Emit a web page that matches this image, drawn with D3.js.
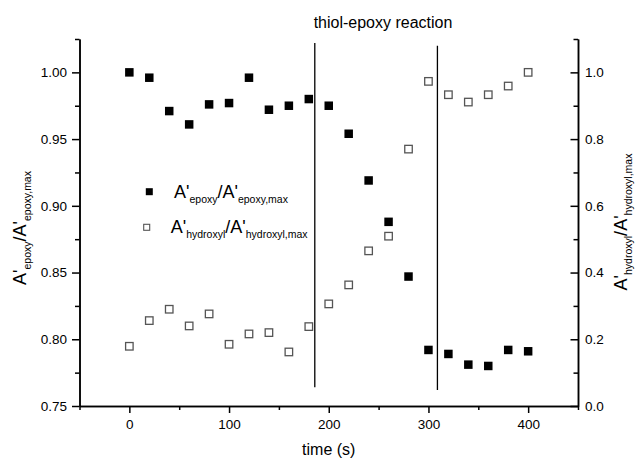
<!DOCTYPE html>
<html><head><meta charset="utf-8">
<script src="https://cdn.jsdelivr.net/npm/d3@7"></script>
<style>
html,body{margin:0;padding:0;background:#fff;}
svg text{font-family:"Liberation Sans",Arial,sans-serif;fill:#000;}
</style></head>
<body><svg id="c" width="640" height="461"></svg>
<script>
// ---- data ----
const times = [0,20,40,60,80,100,120,140,160,180,200,220,240,260,280,300,320,340,360,380,400];
const epoxy = [1.000,0.996,0.971,0.961,0.976,0.977,0.996,0.972,0.975,0.980,0.975,0.954,0.919,0.888,0.847,0.792,0.789,0.781,0.780,0.792,0.791];
const hydroxyl = [0.179,0.256,0.290,0.240,0.276,0.185,0.216,0.220,0.162,0.238,0.306,0.363,0.465,0.509,0.770,0.973,0.933,0.911,0.933,0.959,1.000];
const xMajor = [0,100,200,300,400];
const xMinor = [-50,50,150,250,350,450];
const yLMajor = [0.75,0.80,0.85,0.90,0.95,1.00];
const yLMinor = [0.775,0.825,0.875,0.925,0.975,1.025];
const yRMajor = [0.0,0.2,0.4,0.6,0.8,1.0];
const yRMinor = [0.1,0.3,0.5,0.7,0.9,1.1];
const reactionTimes = [186,309];
const reactionTop = [1.022,1.020];
const reactionBottom = [0.764,0.762];
const titleText = "thiol-epoxy reaction";
const xLabel = "time (s)";

// ---- layout ----
const svg = d3.select("#c");
const L = 79.5, R = 578, T = 39, B = 406;
const x = d3.scaleLinear().domain([-50,450]).range([L,R]);
const yL = d3.scaleLinear().domain([0.75,1.025]).range([B,T]);
const yR = d3.scaleLinear().domain([0,1.1]).range([B,T]);

function styleAxis(g){
  g.select(".domain").attr("stroke","#000").attr("stroke-width",1.5);
  g.selectAll(".tick line").attr("stroke","#000").attr("stroke-width",1.5);
  g.selectAll(".tick text").attr("font-size",13.5).attr("font-family","Liberation Sans, Arial, sans-serif").attr("fill","#111");
}

// bottom axis
const gx = svg.append("g").attr("transform",`translate(0,${B})`)
  .call(d3.axisBottom(x).tickValues(xMajor).tickSize(7).tickSizeOuter(0).tickPadding(6).tickFormat(d3.format("d")));
styleAxis(gx);
const gxm = svg.append("g").attr("transform",`translate(0,${B})`)
  .call(d3.axisBottom(x).tickValues(xMinor).tickSize(4).tickSizeOuter(0).tickFormat(""));
styleAxis(gxm);

// left axis
const gy = svg.append("g").attr("transform",`translate(${L},0)`)
  .call(d3.axisLeft(yL).tickValues(yLMajor).tickSize(7.5).tickSizeOuter(0).tickPadding(5).tickFormat(d3.format(".2f")));
styleAxis(gy);
const gym = svg.append("g").attr("transform",`translate(${L},0)`)
  .call(d3.axisLeft(yL).tickValues(yLMinor).tickSize(4.5).tickSizeOuter(0).tickFormat(""));
styleAxis(gym);

// right axis (ticks pointing inward)
const gr = svg.append("g").attr("transform",`translate(${R},0)`)
  .call(d3.axisRight(yR).tickValues(yRMajor).tickSize(-7.5).tickSizeOuter(0).tickPadding(7).tickFormat(d3.format(".1f")));
styleAxis(gr);
const grm = svg.append("g").attr("transform",`translate(${R},0)`)
  .call(d3.axisRight(yR).tickValues(yRMinor).tickSize(-4.5).tickSizeOuter(0).tickFormat(""));
styleAxis(grm);

// reaction boundary lines
svg.append("g").selectAll("line").data(reactionTimes).join("line")
  .attr("x1",d=>x(d)).attr("x2",d=>x(d))
  .attr("y1",(d,i)=>yL(reactionTop[i])).attr("y2",(d,i)=>yL(reactionBottom[i]))
  .attr("stroke","#000").attr("stroke-width",1.3);

// hydroxyl (open squares, right axis)
const so = 7.5;
svg.append("g").selectAll("rect").data(times).join("rect")
  .attr("x",d=>x(d)-so/2).attr("y",(d,i)=>yR(hydroxyl[i])-so/2)
  .attr("width",so).attr("height",so)
  .attr("fill","#fff").attr("stroke","#555").attr("stroke-width",1.3);

// epoxy (filled squares, left axis)
const sf = 8.5;
svg.append("g").selectAll("rect").data(times).join("rect")
  .attr("x",d=>x(d)-sf/2).attr("y",(d,i)=>yL(epoxy[i])-sf/2)
  .attr("width",sf).attr("height",sf).attr("fill","#000");

// helper for text with subscripts
function subText(sel, parts, big, small, shift){
  parts.forEach(p=>{
    const t = sel.append("tspan").text(p.t);
    if(p.sub){ t.attr("font-size",small).attr("dy",shift); }
    else { t.attr("font-size",big).attr("dy",p.first?0:-shift); }
  });
}

// title
svg.append("text").attr("x",383).attr("y",28).attr("text-anchor","middle")
  .attr("font-size",16).text(titleText);
// x label
svg.append("text").attr("x",(L+R)/2).attr("y",455).attr("text-anchor","middle")
  .attr("font-size",16).text(xLabel);

// left y title
const lt = svg.append("text").attr("transform","translate(25.5,228) rotate(-90)").attr("text-anchor","middle");
subText(lt,[{t:"A'",first:true},{t:"epoxy",sub:true},{t:"/A'"},{t:"epoxy,max",sub:true}],18,10.5,5);
// right y title
const rt = svg.append("text").attr("transform","translate(627,222) rotate(-90)").attr("text-anchor","middle");
subText(rt,[{t:"A'",first:true},{t:"hydroxyl",sub:true},{t:"/A'"},{t:"hydroxyl,max",sub:true}],18,10.5,5);

// legend
svg.append("rect").attr("x",149.3-3.5).attr("y",191.7-3.5).attr("width",7).attr("height",7).attr("fill","#000");
svg.append("rect").attr("x",146.7-3).attr("y",227.3-3).attr("width",6).attr("height",6)
  .attr("fill","#fff").attr("stroke","#555").attr("stroke-width",1.1);
const l1 = svg.append("text").attr("x",174).attr("y",198.3);
subText(l1,[{t:"A'",first:true},{t:"epoxy",sub:true},{t:"/A'"},{t:"epoxy,max",sub:true}],18,10.5,5);
const l2 = svg.append("text").attr("x",170.7).attr("y",233.3);
subText(l2,[{t:"A'",first:true},{t:"hydroxyl",sub:true},{t:"/A'"},{t:"hydroxyl,max",sub:true}],18,10.5,5);
</script></body></html>
